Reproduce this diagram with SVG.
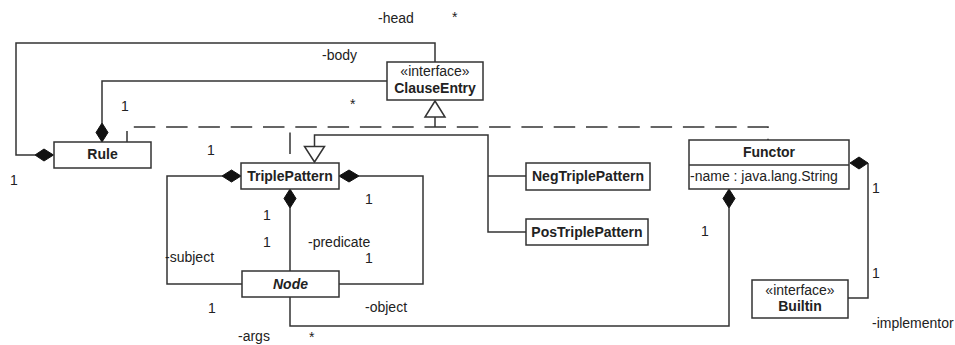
<svg xmlns="http://www.w3.org/2000/svg" width="955" height="345" viewBox="0 0 955 345">
<style>
.box{fill:#fff;stroke:#333;stroke-width:1.5}
.ln{fill:none;stroke:#333;stroke-width:1.5}
.dash{fill:none;stroke:#333;stroke-width:1.5;stroke-dasharray:21.5 10.8}
.dia{fill:#111;stroke:#111;stroke-width:1}
.tri{fill:#fff;stroke:#333;stroke-width:1.5}
text{font-family:"Liberation Sans",Arial,sans-serif;font-size:14px;fill:#222}
.nm{font-weight:bold;text-anchor:middle}
.st{text-anchor:middle}
</style>
<rect width="955" height="345" fill="#fff"/>
<g id="connectors">
  <path class="ln" d="M35,155 H16 V43 H435 V62"/>
  <polygon class="dia" points="35,155 44,149 53.5,155 44,161"/>
  <path class="ln" d="M102,123 V81 H387"/>
  <polygon class="dia" points="102,123 96,132.5 102,142 108,132.5"/>
  <path class="dash" d="M127,142 V127 H768 V140" stroke-dashoffset="10.5"/>
  <path class="dash" d="M290,162 V127" stroke-dashoffset="24.3"/>
  <path class="ln" d="M435,127 V117"/>
  <polygon class="tri" points="435,101 445,117 425,117"/>
  <path class="ln" d="M526,176 H488 M526,232 H488 V135 H314.5 V146.5"/>
  <polygon class="tri" points="314.5,162 304.5,146.5 324.5,146.5"/>
  <path class="ln" d="M222,176 H167 V284 H242"/>
  <polygon class="dia" points="222,176 231.5,170 241,176 231.5,182"/>
  <path class="ln" d="M359,176 H423 V284 H339"/>
  <polygon class="dia" points="339,176 349,170 359,176 349,182"/>
  <path class="ln" d="M290,208 V271"/>
  <polygon class="dia" points="290,189 296,198.5 290,208 284,198.5"/>
  <path class="ln" d="M290,297 V326 H729 V208"/>
  <polygon class="dia" points="729,189 735,198.5 729,208 723,198.5"/>
  <path class="ln" d="M868,163 V298 H848"/>
  <polygon class="dia" points="850,163 859,157 868,163 859,169"/>
</g>
<g id="labels">
  <text x="378" y="23">-head</text>
  <text x="452" y="22">*</text>
  <text x="322" y="60">-body</text>
  <text x="121" y="111">1</text>
  <text x="350" y="109">*</text>
  <text x="207" y="155">1</text>
  <text x="10" y="185">1</text>
  <text x="263" y="220">1</text>
  <text x="263" y="247">1</text>
  <text x="308" y="247">-predicate</text>
  <text x="365" y="204">1</text>
  <text x="365" y="263">1</text>
  <text x="165" y="262">-subject</text>
  <text x="208" y="313">1</text>
  <text x="365" y="312">-object</text>
  <text x="238" y="341">-args</text>
  <text x="309" y="342">*</text>
  <text x="701" y="236">1</text>
  <text x="872" y="193">1</text>
  <text x="872" y="278">1</text>
  <text x="872" y="328">-implementor</text>
</g>
<g id="ClauseEntry">
  <rect class="box" x="387" y="62" width="96" height="38"/>
  <text class="st" x="435" y="76">«interface»</text>
  <text class="nm" x="435" y="93">ClauseEntry</text>
</g>
<g id="Rule">
  <rect class="box" x="54" y="142" width="97" height="26"/>
  <text class="nm" x="102.5" y="159">Rule</text>
</g>
<g id="TriplePattern">
  <rect class="box" x="241" y="163" width="98" height="26"/>
  <text class="nm" x="290" y="181">TriplePattern</text>
</g>
<g id="Node">
  <rect class="box" x="242" y="271" width="97" height="26"/>
  <text class="nm" x="290.5" y="289" font-style="italic">Node</text>
</g>
<g id="NegTriplePattern">
  <rect class="box" x="526" y="163" width="124" height="27"/>
  <text class="nm" x="588" y="181">NegTriplePattern</text>
</g>
<g id="PosTriplePattern">
  <rect class="box" x="526" y="219" width="122" height="26"/>
  <text class="nm" x="587" y="237">PosTriplePattern</text>
</g>
<g id="Functor">
  <rect class="box" x="689" y="140" width="160" height="49"/>
  <line class="ln" x1="689" y1="165" x2="849" y2="165"/>
  <text class="nm" x="769" y="157">Functor</text>
  <text x="690" y="181">-name : java.lang.String</text>
</g>
<g id="Builtin">
  <rect class="box" x="752" y="280" width="96" height="38"/>
  <text class="st" x="800" y="295">«interface»</text>
  <text class="nm" x="800" y="311">Builtin</text>
</g>
</svg>
